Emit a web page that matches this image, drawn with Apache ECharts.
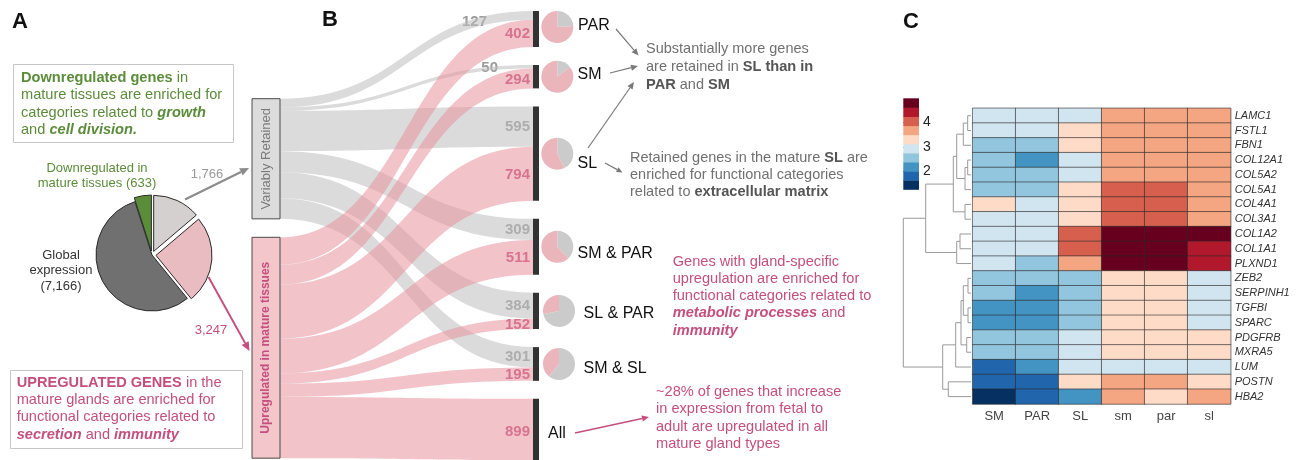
<!DOCTYPE html>
<html><head><meta charset="utf-8">
<script src="https://cdn.jsdelivr.net/npm/echarts@6/dist/echarts.min.js"></script>
<style>html,body{margin:0;padding:0;background:#fff}#c{width:1302px;height:460px}</style>
</head><body><div id="c"></div>
<script>
// ---------- DATA ----------
// Panel A: global pie
const pieNames = ['Variably retained', 'Upregulated in mature tissues', 'Global expression', 'Downregulated in mature tissues'];
const pieValues = [1766, 3247, 7166, 633];

// Panel B: sankey
const leftNodes = ['Variably Retained', 'Upregulated in mature tissues'];
const glandSets = ['PAR', 'SM', 'SL', 'SM & PAR', 'SL & PAR', 'SM & SL', 'All'];
const retainedCounts = [127, 50, 595, 309, 384, 301, 0];
const upregulatedCounts = [402, 294, 794, 511, 152, 195, 899];

// Panel C: heatmap
const heatSamples = ['SM', 'PAR', 'SL', 'sm', 'par', 'sl'];
const heatGenes = ['LAMC1','FSTL1','FBN1','COL12A1','COL5A2','COL5A1','COL4A1','COL3A1','COL1A2','COL1A1','PLXND1',
  'ZEB2','SERPINH1','TGFBI','SPARC','PDGFRB','MXRA5','LUM','POSTN','HBA2'];
const heatValues = [
  [2.94,2.94,2.94,3.69,3.69,3.69],
  [2.94,2.94,3.31,3.69,3.69,3.69],
  [2.56,2.56,3.31,3.69,3.69,3.69],
  [2.56,2.19,2.94,3.69,3.69,3.69],
  [2.56,2.56,2.94,3.69,3.69,3.69],
  [2.56,2.56,3.31,4.06,4.06,3.69],
  [3.31,2.94,3.31,4.06,4.06,3.69],
  [2.94,2.94,3.31,4.06,4.06,3.69],
  [2.94,2.94,4.06,4.81,4.81,4.81],
  [2.94,2.94,4.06,4.81,4.81,4.44],
  [2.94,2.56,3.69,4.81,4.81,4.44],
  [2.56,2.56,2.56,3.31,3.31,2.94],
  [2.56,2.19,2.56,3.31,3.31,2.94],
  [2.19,2.19,2.56,3.31,3.31,2.94],
  [2.19,2.19,2.56,3.31,3.31,2.94],
  [2.56,2.56,2.94,3.31,3.31,3.31],
  [2.56,2.56,2.94,3.31,3.31,3.31],
  [1.81,2.19,2.94,2.94,2.94,2.94],
  [1.81,1.81,3.31,3.69,3.69,3.31],
  [1.44,1.81,2.19,3.69,3.31,3.69]
];
const legendBreaks = [1.25, 1.625, 2.0, 2.375, 2.75, 3.125, 3.5, 3.875, 4.25, 4.625, 5.0];
const legendColors = ['#053061','#2166ac','#4393c3','#92c5de','#d1e5f0','#fddbc7','#f4a582','#d6604d','#b2182b','#67001f'];
const legendTicks = [2, 3, 4];
// dendrogram merges: [child A, child B, height]; leaves are 0..19, new clusters numbered from 20
const dendroMerges = [
  [0,1,3.3],[20,2,7.7],[3,4,3.3],[22,5,6],[21,23,14.3],[6,7,6],[24,25,17.7],
  [8,9,11],[27,10,14.3],[26,28,45.3],
  [11,12,3],[13,14,3],[30,31,7.7],[15,16,4.3],[32,33,10],[34,17,15.3],[18,19,22.7],[35,36,28.3],
  [29,37,67.7]
];

// ---------- STYLE ----------
const FONT = "'Liberation Sans', Arial, sans-serif";
const GREEN = '#5b8c3a', PINK = '#c44f7e', GREYTXT = '#707070';

// ---------- LAYOUT HELPERS ----------
const SK = {left: 252, top: 11, width: 309, height: 449, gap: 18, nodeW: 28};
const totals = glandSets.map((g, i) => retainedCounts[i] + upregulatedCounts[i]);
const grand = totals.reduce((a, b) => a + b, 0);
const ky = (SK.height - (glandSets.length - 1) * SK.gap) / grand;
const rightLayout = [];
{ let y = SK.top; totals.forEach(t => { rightLayout.push({y0: y, h: t * ky}); y += t * ky + SK.gap; }); }

const graphics = [];
function txt(x, y, text, opt) {
  graphics.push({type: 'text', x: x, y: y, silent: true, style: Object.assign({
    text: text, fill: '#222', fontSize: 14.6, fontFamily: FONT, align: 'left', verticalAlign: 'middle'
  }, opt || {})});
}
function arrow(x1, y1, x2, y2, color, w, head) {
  const a = Math.atan2(y2 - y1, x2 - x1), hl = head || 8, hw = hl * 0.45;
  const bx = x2 - Math.cos(a) * hl, by = y2 - Math.sin(a) * hl;
  graphics.push({type: 'line', silent: true, shape: {x1: x1, y1: y1, x2: bx, y2: by}, style: {stroke: color, lineWidth: w}});
  graphics.push({type: 'polygon', silent: true, shape: {points: [[x2, y2],
    [bx + Math.sin(a) * hw, by - Math.cos(a) * hw], [bx - Math.sin(a) * hw, by + Math.cos(a) * hw]]}, style: {fill: color}});
}
const richB = (c) => ({b: {fontWeight: 'bold', fill: c, fontSize: 14.6, fontFamily: FONT},
                      bi: {fontWeight: 'bold', fontStyle: 'italic', fill: c, fontSize: 14.6, fontFamily: FONT}});

// panel letters
txt(12, 22, 'A', {fontSize: 22, fontWeight: 'bold', fill: '#111'});
txt(322, 20, 'B', {fontSize: 22, fontWeight: 'bold', fill: '#111'});
txt(903, 22, 'C', {fontSize: 22, fontWeight: 'bold', fill: '#111'});

// panel A boxes
graphics.push({type: 'rect', silent: true, shape: {x: 13.5, y: 64.5, width: 220, height: 78}, style: {fill: null, stroke: '#c6c6c6', lineWidth: 1}});
[['{b|Downregulated genes} in', 77.7], ['mature tissues are enriched for', 95.3], ['categories related to {bi|growth}', 112.7], ['and {bi|cell division.}', 129.5]]
  .forEach(l => txt(21, l[1], l[0], {fill: GREEN, rich: richB(GREEN)}));
graphics.push({type: 'rect', silent: true, shape: {x: 10.5, y: 370.5, width: 232, height: 78}, style: {fill: null, stroke: '#c6c6c6', lineWidth: 1}});
[['{b|UPREGULATED GENES} in the', 382.7], ['mature glands are enriched for', 400], ['functional categories related to', 417.3], ['{bi|secretion} and {bi|immunity}', 435]]
  .forEach(l => txt(16.7, l[1], l[0], {fill: PINK, rich: richB(PINK)}));
txt(97, 168.3, 'Downregulated in', {fill: GREEN, fontSize: 13, align: 'center'});
txt(97, 183.5, 'mature tissues (' + pieValues[3] + ')', {fill: GREEN, fontSize: 13, align: 'center'});
txt(61, 255, 'Global', {fill: '#333', fontSize: 13, align: 'center'});
txt(61, 270.7, 'expression', {fill: '#333', fontSize: 13, align: 'center'});
txt(61, 286, '(' + pieValues[2].toLocaleString('en-US') + ')', {fill: '#333', fontSize: 13, align: 'center'});
txt(207, 174, pieValues[0].toLocaleString('en-US'), {fill: '#9a9a9a', fontSize: 13, align: 'center'});
txt(211, 330, pieValues[1].toLocaleString('en-US'), {fill: PINK, fontSize: 13, align: 'center'});
arrow(185, 199.5, 249, 168, '#8c8c8c', 2.2, 9);
arrow(208.5, 277, 249.5, 351, PINK, 2, 9);

// panel B annotations
[['Substantially more genes', 49], ['are retained in {b|SL than in}', 67], ['{b|PAR} and {b|SM}', 84.5]]
  .forEach(l => txt(646, l[1], l[0], {fill: GREYTXT, fontSize: 14.5, rich: richB('#555')}));
[['Retained genes in the mature {b|SL} are', 158], ['enriched for functional categories', 175], ['related to {b|extracellular matrix}', 192]]
  .forEach(l => txt(630, l[1], l[0], {fill: GREYTXT, fontSize: 14.5, rich: richB('#555')}));
[['Genes with gland-specific', 261.7], ['upregulation are enriched for', 278.6], ['functional categories related to', 295.8], ['{bi|metabolic processes} and', 313.3], ['{bi|immunity}', 330.7]]
  .forEach(l => txt(672.7, l[1], l[0], {fill: PINK, rich: richB(PINK)}));
[['~28% of genes that increase', 391.7], ['in expression from fetal to', 409], ['adult are upregulated in all', 426.7], ['mature gland types', 443.5]]
  .forEach(l => txt(656, l[1], l[0], {fill: PINK}));
arrow(616, 29, 638.5, 55.5, '#7a7a7a', 1.2, 7);
arrow(610, 73, 638, 66, '#7a7a7a', 1.2, 7);
arrow(588, 148, 634, 82, '#7a7a7a', 1.2, 7);
arrow(605, 163, 622.5, 172.5, '#7a7a7a', 1.2, 6);
arrow(575, 433, 649, 417, PINK, 1.5, 7);

// sankey end numbers
const smallShift = {0: [-43, 6.4], 1: [-32, 1.5]};
glandSets.forEach((g, i) => {
  const L = rightLayout[i], rh = retainedCounts[i] * ky, uh = upregulatedCounts[i] * ky;
  if (retainedCounts[i] > 0) {
    const s = smallShift[i] || [0, 0];
    txt(530 + s[0], L.y0 + rh / 2 + s[1], String(retainedCounts[i]), {fill: '#9a9a9a', fontSize: 15, fontWeight: 'bold', align: 'right'});
  }
  txt(530, L.y0 + rh + uh / 2 + (i === 6 ? 2 : 1), String(upregulatedCounts[i]), {fill: PINK, fontSize: 15, fontWeight: 'bold', align: 'right'});
});

// ---------- SERIES ----------
const pieColors = ['#d4d0d0', '#e8bcc0', '#707070', '#5b8c3a'];
const series = [];
series.push({
  type: 'pie', center: [152, 255], radius: 56, startAngle: 90, clockwise: true,
  selectedMode: 'multiple', selectedOffset: 4, silent: true, label: {show: false}, labelLine: {show: false},
  itemStyle: {borderColor: '#2a2a2a', borderWidth: 1},
  data: pieNames.map((n, i) => ({name: n, value: pieValues[i], selected: i !== 2, itemStyle: {color: pieColors[i]}}))
});

const rightLabelOff = {'PAR': [17, -3], 'SM': [16.5, -2], 'SL': [16.5, 9.5], 'SM & PAR': [16.5, 6.5], 'SL & PAR': [22.5, 2.5], 'SM & SL': [22.5, 4.5], 'All': [-13, 4]};
const barGrad = new echarts.graphic.LinearGradient(0, 0, 1, 0, [
  {offset: 0, color: '#333'}, {offset: 6 / 28, color: '#333'}, {offset: 6 / 28, color: 'rgba(0,0,0,0)'}, {offset: 1, color: 'rgba(0,0,0,0)'}]);
const skNodes = [
  {name: leftNodes[0], localY: (98.7 - SK.top) / SK.height,
   itemStyle: {color: '#dcdcdc', borderColor: '#4a4a4a', borderWidth: 1},
   label: {position: 'inside', rotate: 90, color: '#7a7a7a', fontSize: 13, fontFamily: FONT}},
  {name: leftNodes[1], localY: (237.3 - SK.top) / SK.height,
   itemStyle: {color: '#f3c6cb', borderColor: '#4a4a4a', borderWidth: 1},
   label: {position: 'inside', rotate: 90, color: PINK, fontSize: 12, fontWeight: 'bold', fontFamily: FONT}}
].concat(glandSets.map(g => ({name: g, itemStyle: {color: barGrad, borderWidth: 0},
   label: {position: 'right', distance: 0, offset: rightLabelOff[g], color: '#111', fontSize: 16, fontFamily: FONT}})));
const skLinks = [];
glandSets.forEach((g, i) => { if (retainedCounts[i] > 0) skLinks.push({source: leftNodes[0], target: g, value: retainedCounts[i], lineStyle: {color: '#bdbdbd', opacity: 0.55}}); });
glandSets.forEach((g, i) => { if (upregulatedCounts[i] > 0) skLinks.push({source: leftNodes[1], target: g, value: upregulatedCounts[i], lineStyle: {color: '#e8929c', opacity: 0.55}}); });
series.push({
  type: 'sankey', left: SK.left, top: SK.top, width: SK.width, height: SK.height,
  nodeWidth: SK.nodeW, nodeGap: SK.gap, layoutIterations: 0, draggable: false, silent: true,
  emphasis: {disabled: true}, lineStyle: {curveness: 0.5},
  data: skNodes, links: skLinks
});

// small pies
glandSets.forEach((g, i) => {
  if (retainedCounts[i] === 0) return;
  const L = rightLayout[i];
  series.push({
    type: 'pie', center: [i >= 4 ? 559 : 557.3, L.y0 + L.h / 2 - (i === 0 ? 2 : 0)], radius: 16, startAngle: 90, clockwise: true,
    silent: true, label: {show: false}, labelLine: {show: false},
    data: [{name: 'retained', value: retainedCounts[i], itemStyle: {color: '#cbcbcb'}},
           {name: 'upregulated', value: upregulatedCounts[i], itemStyle: {color: '#eab6bb'}}]
  });
});

// heatmap
const heatIndex = series.length;
const heatData = [];
heatValues.forEach((row, r) => row.forEach((v, c) => heatData.push([c, r, v])));
series.push({type: 'heatmap', xAxisIndex: 0, yAxisIndex: 0, data: heatData, silent: true,
  itemStyle: {borderColor: 'rgba(40,40,40,0.75)', borderWidth: 0.8}});

// dendrogram
const pos = heatGenes.map((g, i) => ({y: i + 0.5, h: 0}));
const dendroData = [];
dendroMerges.forEach(m => {
  const a = pos[m[0]], b = pos[m[1]];
  dendroData.push([m[2], a.y, b.y, a.h, b.h]);
  pos.push({y: (a.y + b.y) / 2, h: m[2]});
});
series.push({type: 'custom', xAxisIndex: 1, yAxisIndex: 1, data: dendroData, silent: true,
  renderItem: (p, api) => {
    const h = api.value(0), ya = api.value(1), yb = api.value(2), ha = api.value(3), hb = api.value(4);
    return {type: 'polyline', shape: {points: [api.coord([ha, ya]), api.coord([h, ya]), api.coord([h, yb]), api.coord([hb, yb])]},
      style: {stroke: '#9a9a9a', lineWidth: 1, fill: null}};
  }});

// colour legend
const legendData = legendColors.map((c, i) => [legendBreaks[i], legendBreaks[i + 1], i]);
series.push({type: 'custom', xAxisIndex: 2, yAxisIndex: 2, data: legendData, silent: true,
  encode: {y: [0, 1]},
  renderItem: (p, api) => {
    const lo = api.value(0), hi = api.value(1), c = legendColors[api.value(2)];
    const p1 = api.coord([0, hi]), p2 = api.coord([1, lo]);
    return {type: 'rect', shape: {x: p1[0], y: p1[1], width: p2[0] - p1[0], height: p2[1] - p1[1] + 0.5}, style: {fill: c}};
  }});

const option = {
  animation: false,
  backgroundColor: '#fff',
  textStyle: {fontFamily: FONT},
  grid: [
    {left: 972.7, top: 108.3, width: 258, height: 295.7},
    {left: 903.3, top: 108.3, width: 67.7, height: 295.7},
    {left: 903.3, top: 98.3, width: 15.7, height: 91}
  ],
  xAxis: [
    {type: 'category', gridIndex: 0, data: heatSamples, axisLine: {show: false}, axisTick: {show: false},
     axisLabel: {color: '#444', fontSize: 13, margin: 6, fontFamily: FONT}},
    {type: 'value', gridIndex: 1, min: 0, max: 67.7, inverse: true, show: false},
    {type: 'value', gridIndex: 2, min: 0, max: 1, show: false}
  ],
  yAxis: [
    {type: 'category', gridIndex: 0, data: heatGenes, inverse: true, position: 'right', axisLine: {show: false}, axisTick: {show: false},
     axisLabel: {color: '#333', fontSize: 11, fontStyle: 'italic', margin: 4, fontFamily: FONT}},
    {type: 'value', gridIndex: 1, min: 0, max: 20, inverse: true, show: false},
    {type: 'value', gridIndex: 2, min: legendBreaks[0], max: legendBreaks[legendBreaks.length - 1], position: 'right',
     axisLine: {show: false}, splitLine: {show: false},
     axisTick: {show: true, length: 3, customValues: legendTicks, lineStyle: {color: '#333'}},
     axisLabel: {customValues: legendTicks, color: '#222', fontSize: 14, margin: 4, fontFamily: FONT}}
  ],
  visualMap: {type: 'piecewise', show: false, seriesIndex: heatIndex, dimension: 2,
    pieces: legendColors.map((c, i) => ({gte: legendBreaks[i], lt: legendBreaks[i + 1], color: c}))},
  graphic: graphics,
  series: series
};
const chart = echarts.init(document.getElementById('c'));
chart.setOption(option);
</script>
</body></html>
